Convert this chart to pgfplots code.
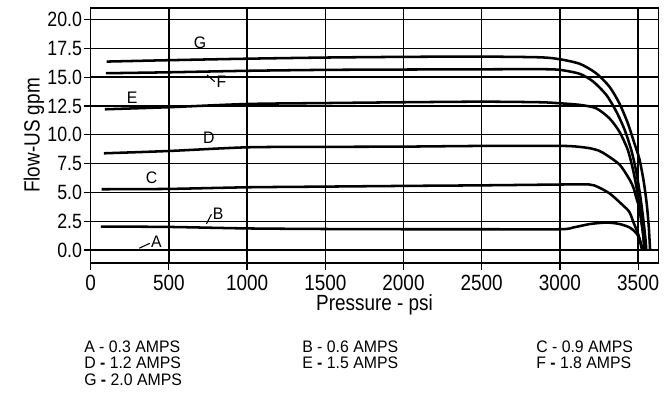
\documentclass[border=0pt]{standalone}
\usepackage{fontspec}
\setmainfont{Liberation Sans}[FakeStretch=0.86]
\newfontfamily\legfont{Liberation Sans}[FakeStretch=0.95]
\usepackage{pgfplots}
\pgfplotsset{compat=1.18}
\begin{document}
\begin{tikzpicture}[curve/.style={black, solid, line width=1.9pt, smooth, tension=0.45, mark=none}]
\begin{axis}[
  scale only axis,
  width=425.85pt, height=191.25pt,
  xmin=0, xmax=3630, ymin=-1.13, ymax=21.0,
  xtick={0,500,...,3500},
  ytick={0,2.5,5,7.5,10,12.5,15,17.5,20},
  /pgf/number format/assume math mode=true,
  xticklabel style={/pgf/number format/1000 sep={}, font=\fontsize{16.5}{18}\selectfont},
  yticklabel style={/pgf/number format/.cd, fixed, fixed zerofill, precision=1, /tikz/.cd, font=\fontsize{15.5}{18}\selectfont, inner sep=1pt},
  scaled x ticks=false,
  tick align=outside,
  tick pos=left,
  major tick length=5.25pt,
  every tick/.style={black, line width=0.9pt},
  axis line style={black, line width=1pt},
  grid=major,
  major grid style={black, line width=1pt},
  xlabel={Pressure - psi},
  ylabel={Flow-US gpm},
  label style={font=\fontsize{16.5}{18}\selectfont},
  xlabel style={yshift=4pt},
  ylabel style={yshift=-2pt},
  clip=false,
]
% A
\addplot[black, solid, line width=2.2pt, mark=none] coordinates {(60,0) (1500,0) (3145,0)};
% B
\addplot[curve] coordinates {(66,2.03) (500,2.0) (1000,1.87) (1500,1.82) (2000,1.8) (2500,1.8) (3000,1.8) (3085,1.95) (3191,2.25) (3300,2.38) (3382,2.25) (3446,1.95) (3489,1.45) (3508,0.95) (3523,0.1)};
% C
\addplot[curve] coordinates {(70,5.27) (500,5.30) (1000,5.44) (1500,5.5) (2000,5.56) (2500,5.61) (3000,5.68) (3150,5.70) (3220,5.6) (3316,4.92) (3401,3.9) (3444,3.3) (3470,2.4) (3497,1.5) (3515,0.7) (3528,0.1)};
% D
\addplot[curve] coordinates {(85,8.39) (500,8.59) (1000,8.91) (1500,8.95) (2000,8.97) (2500,9.03) (3000,9.03) (3100,8.98) (3191,8.83) (3252,8.6) (3297,8.25) (3382,7.4) (3446,6.1) (3470,5.4) (3489,4.5) (3508,3.6) (3521,2.4) (3532,1.4) (3541,0.15)};
% E
\addplot[curve] coordinates {(91,12.21) (500,12.39) (1000,12.67) (1500,12.75) (2000,12.82) (2500,12.87) (2872,12.82) (3000,12.73) (3128,12.59) (3231,12.3) (3316,11.43) (3380,10.27) (3434,8.68) (3470,6.8) (3495,5) (3515,3.2) (3530,1.6) (3540,0.1)};
% F
\addplot[curve] coordinates {(98,15.34) (500,15.42) (1000,15.55) (1500,15.63) (2000,15.66) (2500,15.68) (2872,15.69) (3000,15.63) (3128,15.28) (3213,14.61) (3297,13.45) (3361,12.0) (3414,10.42) (3456,8.68) (3485,7) (3510,5) (3530,3) (3545,1.2) (3552,0.1)};
% G
\addplot[curve] coordinates {(102,16.35) (500,16.47) (1000,16.6) (1500,16.7) (2000,16.76) (2500,16.78) (2872,16.72) (3000,16.55) (3128,16.15) (3231,15.34) (3316,14.18) (3380,12.73) (3434,11.0) (3476,9.26) (3508,7.9) (3535,6) (3555,4) (3568,2) (3576,0.1)};
% curve labels
\begin{scope}[every node/.style={font=\legfont\fontsize{12.5}{14}\selectfont, inner sep=0pt}]
\node at (axis cs:699,17.94) {G};
\node at (axis cs:836,14.6) {F};
\node at (axis cs:266,13.25) {E};
\node at (axis cs:755,9.78) {D};
\node at (axis cs:389,6.31) {C};
\node at (axis cs:815,3.18) {B};
\node at (axis cs:421,0.72) {A};
\end{scope}
\draw[line width=0.8pt] (axis cs:744,15.19) -- (axis cs:793,14.61);
\draw[line width=0.8pt] (axis cs:740,2.26) -- (axis cs:772,3.1);
\draw[line width=0.8pt] (axis cs:310,0.15) -- (axis cs:379,0.58);
\coordinate (O) at (rel axis cs:0,0);
\end{axis}
\begin{scope}[every node/.style={font=\legfont\fontsize{12.5}{14}\selectfont, inner sep=0pt, anchor=base west}]
\node at ([shift={(-5pt,-67pt)}]O) {A - 0.3 AMPS};
\node at ([shift={(-5pt,-79.5pt)}]O) {D \textbf{-} 1.2 AMPS};
\node at ([shift={(-5pt,-92.25pt)}]O) {G \textbf{-} 2.0 AMPS};
\node at ([shift={(158.5pt,-67pt)}]O) {B - 0.6 AMPS};
\node at ([shift={(158.5pt,-79.5pt)}]O) {E \textbf{-} 1.5 AMPS};
\node at ([shift={(334pt,-67pt)}]O) {C - 0.9 AMPS};
\node at ([shift={(334pt,-79.5pt)}]O) {F \textbf{-} 1.8 AMPS};
\end{scope}
\pgfresetboundingbox
\path[use as bounding box] ([shift={(-68pt,-99.75pt)}]O) rectangle ++(498.75pt,297pt);
\end{tikzpicture}
\end{document}
